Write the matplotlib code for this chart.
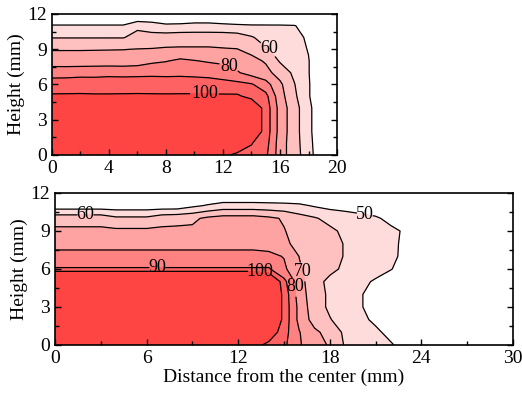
import matplotlib
matplotlib.use('Agg')
import matplotlib.pyplot as plt
from matplotlib.ticker import MultipleLocator

plt.rcParams['font.family'] = ['Liberation Serif', 'DejaVu Serif']

# contour levels and fill colours
levels = [50, 60, 70, 80, 90, 100, 200]
fill_colors = ['#ffdcdc', '#ffc0c0', '#ffa2a2', '#ff8282', '#ff6262', '#ff4444']

# top panel: temperature grid, rows = height 0..12 mm, cols = distance 0..20 mm
top_x = [0, 1, 2, 3, 4, 5, 6, 7, 8, 9, 10, 11, 12, 13, 14, 15, 16, 17, 18, 19, 20]
top_y = [0, 1, 2, 3, 4, 5, 6, 7, 8, 9, 10, 11, 12]
top_temp = [
    [110, 110, 110, 110, 110, 110, 110, 110, 110, 110, 110, 110, 101, 99, 97, 92, 75, 64, 55, 40, 36],
    [110, 110, 110, 110, 110, 110, 110, 110, 110, 110, 110, 110, 110, 104, 100.5, 94, 75, 64, 54, 40, 36],
    [110, 110, 110, 110, 110, 110, 110, 110, 110, 110, 110, 110, 110, 110, 110, 96, 76, 64, 53, 40, 36],
    [110, 110, 110, 110, 110, 110, 110, 110, 110, 110, 110, 110, 110, 110, 110, 96, 76, 64, 53, 40, 36],
    [110, 110, 110, 110, 110, 110, 110, 110, 110, 110, 110, 110, 110, 110, 110, 96, 76, 64, 53, 40, 36],
    [101.5, 101.5, 101.5, 101.5, 101.5, 101.5, 101.5, 101.5, 101.5, 101.5, 101.5, 101.5, 101.5, 101.5, 97, 93, 74, 62, 51, 40, 36],
    [94, 94.5, 95, 94, 94, 94.5, 95, 94.5, 94, 94.5, 94.5, 94, 93.5, 93, 91, 84, 72, 60.5, 51, 40, 36],
    [86.7, 86.5, 87, 87.5, 88, 87.5, 87.5, 88, 88, 88, 87.5, 87, 85, 81, 76, 73, 66, 58, 50.5, 40, 36],
    [74, 74, 74, 74, 74, 74, 75, 78, 79.5, 82, 80.5, 79, 78, 76, 73, 69, 59, 54, 50.5, 40, 36],
    [69.5, 69.5, 69.5, 69.6, 69.7, 69.8, 70.2, 70.5, 71, 71, 71, 71, 70.5, 70.2, 67, 61, 57, 54, 49.5, 40, 36],
    [59.6, 59.6, 59.6, 59.6, 59.6, 59.6, 63, 63, 65, 66, 66, 66, 66, 65, 61, 56, 54, 52, 49, 40, 36],
    [51, 51, 51, 51, 51, 51, 58, 56, 52, 52, 52.5, 52.5, 52, 51.5, 51, 51, 51, 50.5, 46, 40, 36],
    [34, 34, 34, 34, 34, 34, 36, 36, 38, 40, 42, 42, 40, 38, 36, 35, 34, 34, 34, 34, 34],
]

# bottom panel: rows = height 0..12 mm, cols = distance 0..24 mm
bot_x = [0, 1, 2, 3, 4, 5, 6, 7, 8, 9, 10, 11, 12, 13, 14, 15, 16, 17, 18, 19, 20, 21, 22, 23, 24]
bot_y = [0, 1, 2, 3, 4, 5, 6, 7, 8, 9, 10, 11, 12]
bot_temp = [
    [140, 140, 140, 140, 140, 140, 140, 140, 140, 140, 140, 140, 140, 104, 97, 92, 81, 74, 69, 59, 56, 54, 51, 46, 40],
    [140, 140, 140, 140, 140, 140, 140, 140, 140, 140, 140, 140, 140, 140, 108, 94, 80.5, 72, 66.5, 58, 55, 52, 47, 40, 40],
    [140, 140, 140, 140, 140, 140, 140, 140, 140, 140, 140, 140, 140, 140, 119, 96.5, 77, 66, 60.5, 56, 52.5, 48, 40, 40, 40],
    [140, 140, 140, 140, 140, 140, 140, 140, 140, 140, 140, 140, 140, 140, 119, 96.5, 77, 64, 58.5, 55, 51, 45, 40, 40, 40],
    [140, 140, 140, 140, 140, 140, 140, 140, 140, 140, 140, 140, 140, 140, 119, 96.5, 75, 64, 58.5, 55, 51, 45, 40, 40, 40],
    [140, 140, 140, 140, 140, 140, 140, 140, 140, 140, 140, 140, 140, 140, 120, 93, 74, 63, 58, 55, 52, 49, 44, 40, 40],
    [91, 91, 91, 91, 91, 91, 91, 91, 91, 91, 91, 91, 91, 91, 91, 82, 71, 66, 62, 58.5, 55, 53, 50.5, 45, 40],
    [82, 82, 82, 82, 82, 82, 82, 82, 82, 82, 82, 82, 82, 82, 82.5, 79.5, 69.8, 66, 63, 59.5, 56, 54, 52.5, 47, 40],
    [78, 78, 78, 78, 78, 78, 78, 78, 78, 78, 78, 78, 78, 78, 76, 72, 67, 65, 63, 59.5, 56, 54, 53, 47, 40],
    [72, 72, 72, 72, 72, 72, 72, 72, 72, 72, 74, 75, 75, 75, 73, 70.5, 66, 64, 62, 58, 56, 54, 53, 48, 40],
    [66, 66, 66, 66, 62, 62, 62, 66, 67, 68, 72, 74, 74, 74, 72, 69, 64, 61, 57, 55, 53, 52, 46, 40, 40],
    [44, 44, 44, 44, 44, 44, 44, 44, 44, 48, 51, 54, 54, 54, 53.5, 53, 52, 49, 47, 46, 45, 40, 40, 40, 40],
    [38, 38, 38, 38, 38, 38, 38, 38, 38, 38, 38, 38, 38, 38, 38, 38, 38, 38, 38, 38, 38, 38, 38, 38, 38],
]

top_label_levels = [60, 80, 100]
top_label_pos = [(15.3, 9.2), (12.3, 7.2), (10.7, 5.2)]
bot_label_levels = [50, 60, 70, 80, 90, 100]
bot_label_pos = [(20.3, 10.4), (2.0, 10.25), (16.3, 5.8), (15.8, 4.6), (6.7, 6.1), (13.4, 5.6)]

fig = plt.figure(figsize=(5.22, 3.95), dpi=100)
ax1 = fig.add_axes([0.0996, 0.6076, 0.546, 0.357])
ax2 = fig.add_axes([0.1054, 0.1266, 0.8774, 0.3848])


def draw_panel(ax, x, y, z, lab_levels, lab_pos):
    ax.contourf(x, y, z, levels=levels, colors=fill_colors)
    plain = [lv for lv in levels[:-1] if lv not in lab_levels]
    if plain:
        ax.contour(x, y, z, levels=plain, colors='k', linewidths=0.9)
    # labelled levels get their own contour set so clabel indexes them correctly
    cs = ax.contour(x, y, z, levels=lab_levels, colors='k', linewidths=0.9)
    ax.clabel(cs, fmt='%d', fontsize=13, inline=True,
              inline_spacing=1, manual=lab_pos)
    for txt in cs.labelTexts:
        txt.set_rotation(0)
    ax.set_ylim(0, 12)
    ax.set_yticks([0, 3, 6, 9, 12])
    ax.yaxis.set_minor_locator(MultipleLocator(1.5))
    ax.tick_params(which='both', direction='in', right=True, top=False,
                   labelsize=14, width=1)
    ax.tick_params(which='major', length=4)
    ax.tick_params(which='minor', length=3)
    for sp in ax.spines.values():
        sp.set_linewidth(1.2)
    ax.set_ylabel('Height (mm)', fontsize=14, labelpad=2)


draw_panel(ax1, top_x, top_y, top_temp, top_label_levels, top_label_pos)
ax1.set_xlim(0, 20)
ax1.set_xticks([0, 4, 8, 12, 16, 20])
ax1.xaxis.set_minor_locator(MultipleLocator(2))

draw_panel(ax2, bot_x, bot_y, bot_temp, bot_label_levels, bot_label_pos)
ax2.set_xlim(0, 30)
ax2.set_xticks([0, 6, 12, 18, 24, 30])
ax2.xaxis.set_minor_locator(MultipleLocator(3))
ax2.set_xlabel('Distance from the center (mm)', fontsize=14, labelpad=1)

fig.savefig('out.png', dpi=100)
